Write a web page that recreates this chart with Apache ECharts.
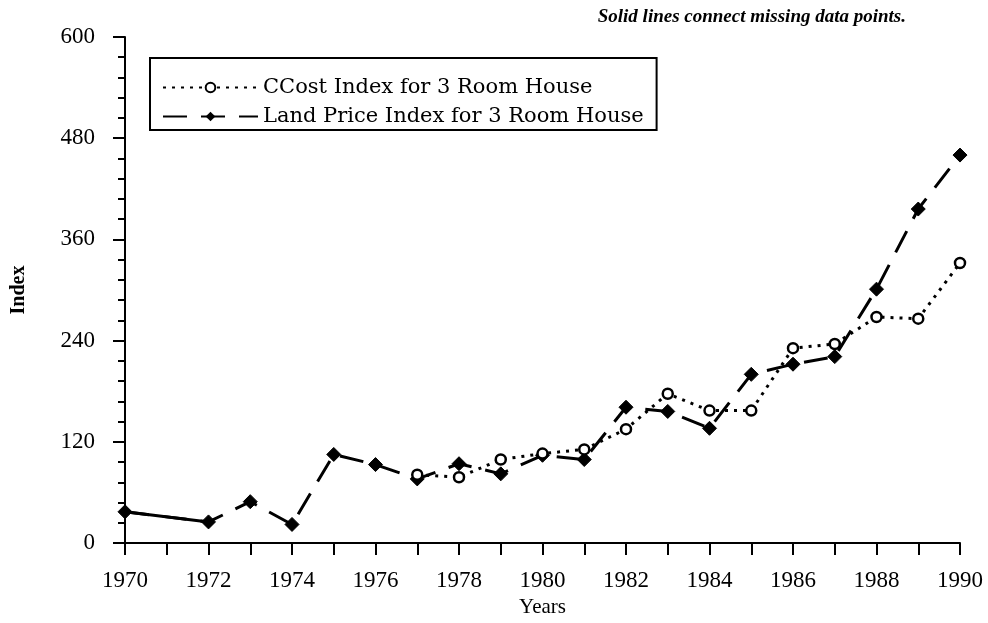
<!DOCTYPE html>
<html>
<head>
<meta charset="utf-8">
<script src="https://cdn.jsdelivr.net/npm/echarts@6/dist/echarts.min.js"></script>
<style>
  html, body { margin: 0; padding: 0; background: #fff; }
  #main { width: 988px; height: 623px; }
</style>
</head>
<body>
<div id="main"></div>
<script>
var chartDom = document.getElementById('main');
var myChart = echarts.init(chartDom);
var option;

// values
var costYears = [1977, 1978, 1979, 1980, 1981, 1982, 1983, 1984, 1985, 1986, 1987, 1988, 1989, 1990];
var costIndex = [81, 78, 99, 106, 111, 135, 177, 157, 157, 231, 236, 268, 266, 332];

var landYears = [1970, 1972, 1973, 1974, 1975, 1976, 1977, 1978, 1979, 1980, 1981, 1982, 1983, 1984, 1985, 1986, 1987, 1988, 1989, 1990];
var landIndex = [37, 25, 49, 22, 105, 93, 76, 94, 82, 104, 99, 161, 156, 136, 200, 212, 221, 301, 396, 460];

// solid link across the missing year
var gapYears = [1970, 1972];

const serif = '"Liberation Serif", "DejaVu Serif", serif';
const wideSerif = '"DejaVu Serif", "Liberation Serif", serif';

function pairs(xs, ys) {
  return xs.map((x, i) => [x, ys[i]]);
}
function lookup(years, values, y) {
  return values[years.indexOf(y)];
}

option = {
  backgroundColor: '#fff',
  animation: false,
  title: {
    text: 'Solid lines connect missing data points.',
    right: 77,
    top: 3,
    textStyle: {
      fontFamily: serif,
      fontStyle: 'italic',
      fontWeight: 'bold',
      fontSize: 19,
      color: '#000',
    },
  },
  legend: {
    data: ['CCost Index for 3 Room House', 'Land Price Index for 3 Room House'],
    orient: 'vertical',
    left: 150,
    top: 58,
    padding: [19, 13, 3, 12],
    itemGap: 8,
    itemWidth: 95,
    itemHeight: 12,
    borderColor: '#000',
    borderWidth: 2,
    textStyle: {
      fontFamily: wideSerif,
      fontSize: 21,
      color: '#000',
    },
  },
  grid: {
    left: 125,
    right: 28,
    top: 37,
    bottom: 80,
    outerBoundsMode: 'none',
  },
  xAxis: {
    type: 'value',
    min: 1970,
    max: 1990,
    interval: 1,
    name: 'Years',
    nameLocation: 'middle',
    nameGap: 54,
    nameTextStyle: { fontFamily: serif, fontSize: 21, color: '#000' },
    axisLine: { onZero: false, lineStyle: { color: '#000', width: 2 } },
    axisTick: { inside: false, length: 12, lineStyle: { color: '#000', width: 2 } },
    axisLabel: {
      margin: 26,
      fontFamily: serif,
      fontSize: 23,
      color: '#000',
      formatter: (v) => (v % 2 === 0 ? String(v) : ''),
    },
    splitLine: { show: false },
  },
  yAxis: {
    type: 'value',
    min: 0,
    max: 600,
    interval: 120,
    name: 'Index',
    nameLocation: 'middle',
    nameGap: 96,
    nameRotate: 90,
    nameTextStyle: { fontFamily: serif, fontSize: 20, fontWeight: 'bold', color: '#000' },
    axisLine: { show: true, lineStyle: { color: '#000', width: 2 } },
    axisTick: { length: 12, lineStyle: { color: '#000', width: 2 } },
    minorTick: { show: true, splitNumber: 5, length: 7, lineStyle: { color: '#000', width: 2 } },
    axisLabel: { margin: 30, fontFamily: serif, fontSize: 23, color: '#000' },
    splitLine: { show: false },
  },
  series: [
    {
      name: 'CCost Index for 3 Room House',
      type: 'line',
      data: pairs(costYears, costIndex),
      symbol: 'circle',
      symbolSize: 10,
      itemStyle: { color: '#fff', borderColor: '#000', borderWidth: 2.5 },
      lineStyle: { color: '#000', width: 3, type: [3, 6] },
      z: 3,
    },
    {
      name: 'Land Price Index for 3 Room House',
      type: 'line',
      data: pairs(landYears, landIndex),
      symbol: 'diamond',
      symbolSize: 14,
      itemStyle: { color: '#000', borderColor: '#000' },
      lineStyle: { color: '#000', width: 3, type: [24, 14] },
      z: 2,
    },
    {
      name: 'gap',
      type: 'line',
      data: gapYears.map((y) => [y, lookup(landYears, landIndex, y)]),
      symbol: 'none',
      lineStyle: { color: '#000', width: 3, type: 'solid' },
      z: 2,
    },
  ],
};

option && myChart.setOption(option);

window.onresize = function () {
  myChart.resize();
};
</script>
</body>
</html>
